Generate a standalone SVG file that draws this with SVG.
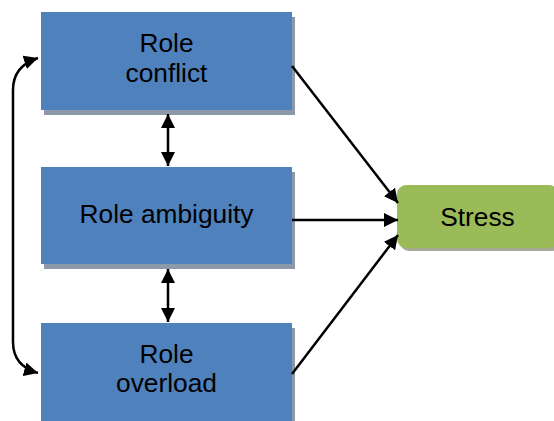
<svg xmlns="http://www.w3.org/2000/svg" width="554" height="421" viewBox="0 0 554 421">
<defs>
<style>
.box{fill:#4f81bd}
.sh{fill:#8d99aa}
.gbox{fill:#9bbb59}
.gsh{fill:#a3ab94}
.t{font-family:"Liberation Sans",Arial,sans-serif;font-size:26.3px;fill:#000;text-anchor:middle}
.c{stroke:#000;stroke-width:2.5;fill:none}
</style>
<marker id="ah" viewBox="0 0 14 14" refX="14" refY="7" markerWidth="14" markerHeight="14" markerUnits="userSpaceOnUse" orient="auto-start-reverse">
<path d="M0,0 L14,7 L0,14 Z" fill="#000"/>
</marker>
</defs>
<rect width="554" height="421" fill="#fff"/>
<g id="role-conflict">
<rect class="sh" x="44" y="17" width="251" height="98"/>
<rect class="box" x="41" y="12" width="251" height="98"/>
<text class="t" x="166.5" y="52">Role</text>
<text class="t" x="166.5" y="82">conflict</text>
</g>
<g id="role-ambiguity">
<rect class="sh" x="44" y="172" width="251" height="97"/>
<rect class="box" x="41" y="167" width="251" height="97"/>
<text class="t" x="166.5" y="223">Role ambiguity</text>
</g>
<g id="role-overload">
<rect class="sh" x="44" y="328" width="251" height="98"/>
<rect class="box" x="41" y="323" width="251" height="98"/>
<text class="t" x="166.5" y="363">Role</text>
<text class="t" x="166.5" y="392">overload</text>
</g>
<g id="stress">
<rect class="gsh" x="400" y="188" width="161" height="63" rx="9"/>
<rect class="gbox" x="397" y="185" width="161" height="63" rx="9"/>
<text class="t" x="477.5" y="226">Stress</text>
</g>
<g id="connectors">
<line class="c" x1="168" y1="114" x2="168" y2="166" marker-start="url(#ah)" marker-end="url(#ah)"/>
<line class="c" x1="168" y1="269" x2="168" y2="322" marker-start="url(#ah)" marker-end="url(#ah)"/>
<line class="c" x1="292" y1="66" x2="398" y2="203" marker-end="url(#ah)"/>
<line class="c" x1="292" y1="220" x2="398" y2="220" marker-end="url(#ah)"/>
<line class="c" x1="292" y1="374" x2="398" y2="235" marker-end="url(#ah)"/>
<path class="c" d="M38,58 Q13,66 13,90 L13,342 Q13,366 38,373" marker-start="url(#ah)" marker-end="url(#ah)"/>
</g>
</svg>
